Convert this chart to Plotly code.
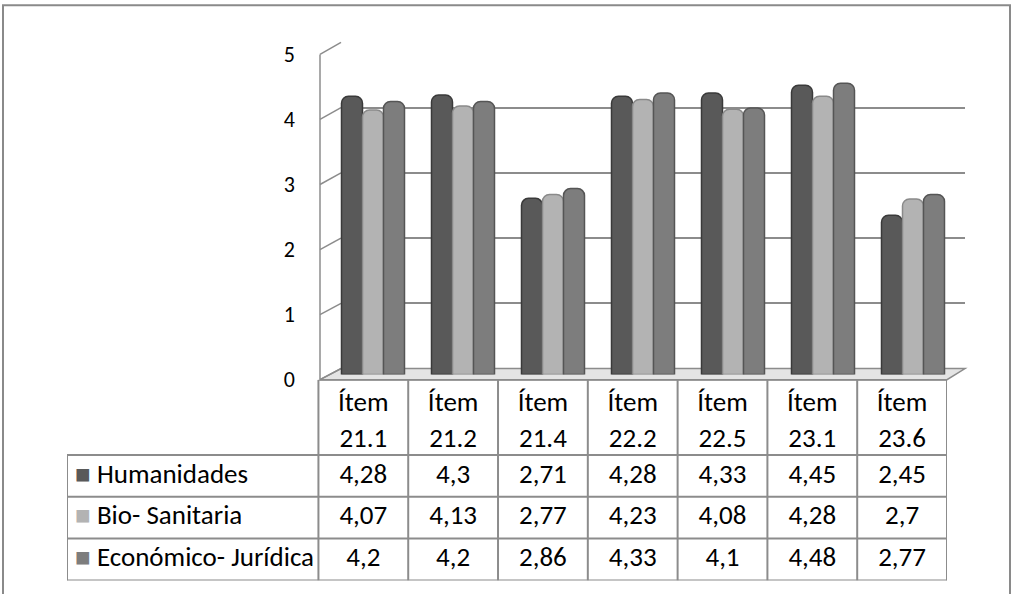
import plotly.graph_objects as go

categories = ["Ítem 21.1", "Ítem 21.2", "Ítem 21.4", "Ítem 22.2", "Ítem 22.5", "Ítem 23.1", "Ítem 23.6"]
series_names = ["Humanidades", "Bio- Sanitaria", "Económico- Jurídica"]
humanidades = [4.28, 4.3, 2.71, 4.28, 4.33, 4.45, 2.45]
bio_sanitaria = [4.07, 4.13, 2.77, 4.23, 4.08, 4.28, 2.7]
economico = [4.2, 4.2, 2.86, 4.33, 4.1, 4.48, 2.77]
y_ticks = [0, 1, 2, 3, 4, 5]

series_values = [humanidades, bio_sanitaria, economico]
colors = ["#595959", "#b3b3b3", "#7d7d7d"]
edge_colors = ["#3a3a3a", "#8a8a8a", "#555555"]

# the photographed page maps figure pixel y to picture y = OFF + S * (y - SHIFT)
OFF, S, SHIFT = 12.2, 0.953, 13
W = 1012
H = round((594 - OFF) / S + SHIFT)
FONT = "Calibri, Carlito, Lato, sans-serif"
GRID = "#8c8c8c"
TABLE_FONT = 27


def px_x(p):
    return p / W


def px_y(p):
    """picture pixel (from top) -> paper y"""
    return 1 - ((p - OFF) / S + SHIFT) / H


# chart geometry (picture pixels)
FRONT_L, FRONT_R = 320, 947
BACK_L, BACK_R = 341, 965
FRONT_Y0, FRONT_Y5 = 378, 54
BACK_Y0, BACK_Y5 = 367, 42
BAR_Y0, BAR_Y5 = 373, 49
BAR_X0, BAR_X1 = 328, 958
# table geometry (picture pixels)
TAB_L, TAB_R, TAB_BOT = 67, 947, 578
LABEL_COL = 252 / 90          # width of the label column in data-column units
HEADER_H = 75
ROW_H = (TAB_BOT - FRONT_Y0 - HEADER_H) / 3


def front_y(v):
    return FRONT_Y0 + (FRONT_Y5 - FRONT_Y0) * v / 5


def back_y(v):
    return BACK_Y0 + (BACK_Y5 - BACK_Y0) * v / 5


fig = go.Figure()

hidden = dict(mode="markers", marker=dict(opacity=0), hoverinfo="skip", showlegend=False)
fig.add_trace(go.Scatter(x=[0], y=[0], xaxis="x", yaxis="y", **hidden))
fig.add_trace(go.Scatter(x=[0], y=[0], xaxis="x2", yaxis="y2", **hidden))

# bars
for name, vals, c, ec in zip(series_names, series_values, colors, edge_colors):
    fig.add_trace(go.Bar(x=categories, y=vals, name=name, xaxis="x3", yaxis="y3",
                         marker=dict(color=c, line=dict(color=ec, width=1.5), cornerradius=7),
                         hoverinfo="skip", showlegend=False))

# data table (subplot x4/y4): x in column units, y in picture pixels above table bottom
n_cat = len(categories)
table_top = TAB_BOT - FRONT_Y0
header_mid = table_top - HEADER_H / 2 - 5
col_centers = [i + 0.5 for i in range(n_cat)]
tfont = dict(family=FONT, size=TABLE_FONT, color="black")


def fmt(v):
    return f"{v:g}".replace(".", ",")


fig.add_trace(go.Scatter(x=col_centers, y=[header_mid] * n_cat, xaxis="x4", yaxis="y4",
                         mode="text", text=[c.replace(" ", "<br>") for c in categories],
                         textposition="middle center", textfont=tfont,
                         hoverinfo="skip", showlegend=False))
for k, (name, vals, c) in enumerate(zip(series_names, series_values, colors)):
    row_mid = table_top - HEADER_H - ROW_H * (k + 0.5)
    fig.add_trace(go.Scatter(x=col_centers, y=[row_mid] * n_cat, xaxis="x4", yaxis="y4",
                             mode="text", text=[fmt(v) for v in vals],
                             textposition="middle center", textfont=tfont,
                             hoverinfo="skip", showlegend=False))
    fig.add_trace(go.Scatter(x=[-LABEL_COL + 0.09], y=[row_mid], xaxis="x4", yaxis="y4",
                             mode="text",
                             text=[f"<span style='color:{c};font-size:26px'>■</span> {name}"],
                             textposition="middle right", textfont=tfont,
                             hoverinfo="skip", showlegend=False))

shapes = []
line = dict(color=GRID, width=2)
# floor
shapes.append(dict(type="path", xref="paper", yref="paper", layer="below",
                   path=f"M{px_x(FRONT_L)},{px_y(FRONT_Y0)} L{px_x(FRONT_R)},{px_y(FRONT_Y0)} "
                        f"L{px_x(BACK_R)},{px_y(BACK_Y0)} L{px_x(BACK_L)},{px_y(BACK_Y0)} Z",
                   fillcolor="#e4e4e4", line=dict(color=GRID, width=1.5)))
# side wall
for v in y_ticks:
    shapes.append(dict(type="line", xref="paper", yref="paper", layer="below",
                       x0=px_x(FRONT_L), y0=px_y(front_y(v)), x1=px_x(BACK_L), y1=px_y(back_y(v)),
                       line=dict(color=GRID, width=1.5)))
shapes.append(dict(type="line", xref="paper", yref="paper", layer="below",
                   x0=px_x(FRONT_L), y0=px_y(FRONT_Y0), x1=px_x(FRONT_L), y1=px_y(FRONT_Y5),
                   line=dict(color=GRID, width=1.5)))
# table grid
body_top = table_top - HEADER_H
for i in range(n_cat + 1):
    shapes.append(dict(type="line", xref="x4", yref="y4", x0=i, x1=i, y0=0, y1=table_top, line=line))
shapes.append(dict(type="line", xref="x4", yref="y4", x0=-LABEL_COL, x1=-LABEL_COL, y0=0, y1=body_top, line=line))
shapes.append(dict(type="line", xref="x4", yref="y4", x0=0, x1=n_cat, y0=table_top, y1=table_top, line=line))
for k in range(len(series_names) + 1):
    yk = body_top - ROW_H * k
    shapes.append(dict(type="line", xref="x4", yref="y4", x0=-LABEL_COL, x1=n_cat, y0=yk, y1=yk, line=line))
# outer frame
frame_top = min(px_y(5), 1 - 1 / H)
shapes.append(dict(type="rect", xref="paper", yref="paper", layer="above",
                   x0=px_x(3), y0=-0.05, x1=px_x(1010), y1=frame_top,
                   line=dict(color="#8a8a8a", width=2), fillcolor="rgba(0,0,0,0)"))

fig.update_layout(
    width=W, height=H,
    margin=dict(l=0, r=0, t=0, b=0),
    paper_bgcolor="white", plot_bgcolor="rgba(0,0,0,0)",
    barmode="group", bargap=0.3, bargroupgap=0,
    showlegend=False, hovermode=False,
    shapes=shapes,
    font=dict(family=FONT, color="black"),
    xaxis=dict(domain=[px_x(BACK_L), px_x(BACK_R)], range=[0, 1], visible=False),
    yaxis=dict(domain=[px_y(BACK_Y0), px_y(BACK_Y5)], range=[0, 5], tickvals=y_ticks,
               showgrid=True, gridcolor=GRID, gridwidth=1.5, zeroline=False,
               showticklabels=False, showline=False, ticks=""),
    xaxis2=dict(domain=[px_x(FRONT_L), px_x(FRONT_R)], range=[0, 1], visible=False, anchor="y2"),
    yaxis2=dict(domain=[px_y(FRONT_Y0), px_y(FRONT_Y5)], range=[0, 5], tickvals=y_ticks,
                anchor="x2", showgrid=False, zeroline=False, showline=False, ticks="",
                ticklabelstandoff=24, tickfont=dict(family=FONT, size=22, color="black")),
    xaxis3=dict(domain=[px_x(BAR_X0), px_x(BAR_X1)], type="category", visible=False, anchor="y3"),
    yaxis3=dict(domain=[px_y(BAR_Y0), px_y(BAR_Y5)], range=[0, 5], visible=False, anchor="x3"),
    xaxis4=dict(domain=[px_x(TAB_L), px_x(TAB_R)], range=[-LABEL_COL, n_cat], visible=False, anchor="y4"),
    yaxis4=dict(domain=[px_y(TAB_BOT), px_y(FRONT_Y0)], range=[0, table_top], visible=False, anchor="x4"),
)

post = ("document.body.style.margin='0';document.body.style.padding='0';"
        "var d=document.getElementById('{plot_id}');"
        "d.style.position='fixed';d.style.left='0px';d.style.top='-%dpx';" % SHIFT)
fig.write_html("out.html", config={"displayModeBar": False}, post_script=post)
